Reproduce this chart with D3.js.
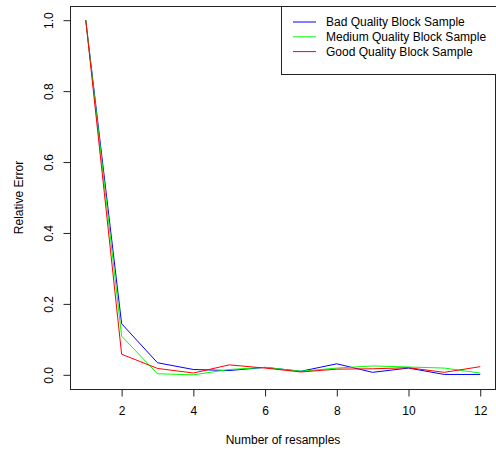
<!DOCTYPE html>
<html lang="en">
<head>
<meta charset="UTF-8" />
<title>Relative Error vs Number of resamples</title>
<style>
  body { margin: 0; background: #fff; }
  svg { display: block; font-family: "Liberation Sans", Arial, Helvetica, sans-serif; }
</style>
</head>
<body>
<svg width="496" height="450"></svg>
<script src="https://d3js.org/d3.v7.min.js"></script>
<script>
// data
var resamples = [1, 2, 3, 4, 5, 6, 7, 8, 9, 10, 11, 12];
var badQuality    = [1.0, 0.144, 0.034, 0.015, 0.012, 0.021, 0.010, 0.031, 0.007, 0.019, 0.001, 0.001];
var mediumQuality = [1.0, 0.109, 0.003, 0.000, 0.015, 0.021, 0.010, 0.019, 0.025, 0.022, 0.019, 0.005];
var goodQuality   = [1.0, 0.058, 0.018, 0.005, 0.028, 0.019, 0.008, 0.016, 0.017, 0.020, 0.007, 0.023];
var seriesNames = ["Bad Quality Block Sample", "Medium Quality Block Sample", "Good Quality Block Sample"];
var seriesColors = ["#0000ff", "#00ff00", "#ff0000"];
var xTicks = [2, 4, 6, 8, 10, 12];
var yTicks = [0, 0.2, 0.4, 0.6, 0.8, 1.0];

var svg = d3.select("svg");
var box = {left: 70, right: 496, top: 6, bottom: 389};
var fs = 12;

// R style 4% padding around data range
var x = d3.scaleLinear().domain([1 - 0.44, 12 + 0.44]).range([box.left, box.right]);
var y = d3.scaleLinear().domain([-0.04, 1.04]).range([box.bottom, box.top]);

var series = [badQuality, mediumQuality, goodQuality].map(function(vals, i) {
  return {name: seriesNames[i], color: seriesColors[i],
          points: vals.map(function(v, j) { return [resamples[j], v]; })};
});

var line = d3.line()
  .x(function(d) { return x(d[0]); })
  .y(function(d) { return y(d[1]); });

svg.selectAll(".series")
  .data(series)
  .enter().append("path")
  .attr("class", "series")
  .attr("fill", "none")
  .attr("stroke", function(d) { return d.color; })
  .attr("stroke-width", 1)
  .attr("d", function(d) { return line(d.points); });

// plot box
svg.append("rect")
  .attr("x", box.left + 0.5)
  .attr("y", box.top + 0.5)
  .attr("width", box.right - box.left - 1)
  .attr("height", box.bottom - box.top)
  .attr("fill", "none")
  .attr("stroke", "#222");

// X axis
var xAxis = svg.append("g")
  .attr("transform", "translate(0," + (box.bottom + 0.5) + ")")
  .call(d3.axisBottom(x).tickValues(xTicks).tickSize(7).tickPadding(10).tickSizeOuter(0));
xAxis.select(".domain")
  .attr("d", "M" + x(2) + ",0H" + x(12));

// Y axis
var yAxis = svg.append("g")
  .attr("transform", "translate(" + (box.left + 0.5) + ",0)")
  .call(d3.axisLeft(y).tickValues(yTicks).tickFormat(d3.format(".1f")).tickSize(7).tickSizeOuter(0));
yAxis.select(".domain")
  .attr("d", "M0," + y(0) + "V" + y(1));
yAxis.selectAll(".tick text")
  .attr("x", 0)
  .attr("dy", 0)
  .attr("transform", "translate(-22,0) rotate(-90)")
  .style("text-anchor", "middle")
  .attr("dominant-baseline", "central");

svg.selectAll(".tick text").attr("font-size", fs).attr("fill", "#000").attr("font-family", null);
svg.selectAll(".tick line, .domain").attr("stroke", "#222");

// axis titles
svg.append("text")
  .attr("x", (box.left + box.right) / 2)
  .attr("y", 444)
  .attr("text-anchor", "middle")
  .attr("font-size", fs)
  .text("Number of resamples");

svg.append("text")
  .attr("transform", "translate(23," + ((box.top + box.bottom) / 2) + ") rotate(-90)")
  .attr("text-anchor", "middle")
  .attr("font-size", fs)
  .text("Relative Error");

// legend
var legend = svg.append("g");
legend.append("rect")
  .attr("x", 281.5)
  .attr("y", box.top + 0.5)
  .attr("width", 215)
  .attr("height", 68)
  .attr("fill", "#fff")
  .attr("stroke", "#222");

var rows = legend.selectAll(".row")
  .data(series)
  .enter().append("g")
  .attr("transform", function(d, i) { return "translate(0," + (22 + i * 14.8) + ")"; });
rows.append("line")
  .attr("x1", 293).attr("x2", 316)
  .attr("y1", 0).attr("y2", 0)
  .attr("stroke", function(d) { return d.color; });
rows.append("text")
  .attr("x", 326)
  .attr("dy", "0.35em")
  .attr("font-size", fs)
  .text(function(d) { return d.name; });
</script>
</body>
</html>
